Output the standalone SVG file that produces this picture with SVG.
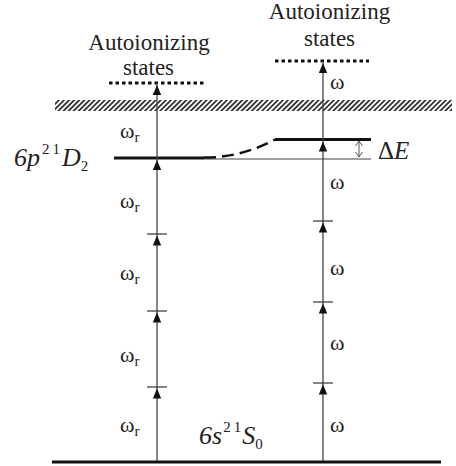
<svg xmlns="http://www.w3.org/2000/svg" width="456" height="466" viewBox="0 0 456 466">
<style>
.t{font-family:"Liberation Serif","Times New Roman",serif;fill:#222}
.lbl{font-size:23px}
.big{font-size:26px}
.de{font-size:25px}
.w{font-size:22px}
.sub{font-size:15px;font-style:normal}
.it{font-style:italic}
.lv{stroke:#111;stroke-width:3;fill:none}
.thin{stroke:#444;stroke-width:1.2;fill:none}
.dot{stroke:#111;stroke-width:3;stroke-dasharray:3.5 3;fill:none}
.ax{stroke:#444;stroke-width:1.3;fill:none}
.tick{stroke:#333;stroke-width:1.2}
</style>
<defs>
<path id="ah" d="M0,0 L-4.2,10 L4.2,10 Z" fill="#111"/>
<pattern id="hatch" patternUnits="userSpaceOnUse" width="3.6" height="3.6" patternTransform="rotate(45)">
<rect x="0" y="0" width="1.8" height="3.6" fill="#333"/>
</pattern>
</defs>

<g id="ionization-limit">
<rect x="55" y="100" width="397" height="11" fill="url(#hatch)"/>
</g>

<g id="autoionizing-left">
<line class="dot" x1="109" y1="83" x2="204" y2="83"/>
<text class="t lbl" x="149" y="50" text-anchor="middle">Autoionizing</text>
<text class="t lbl" x="148.5" y="75" text-anchor="middle">states</text>
</g>

<g id="autoionizing-right">
<line class="dot" x1="275" y1="61" x2="369" y2="61"/>
<text class="t lbl" x="329.5" y="19" text-anchor="middle">Autoionizing</text>
<text class="t lbl" x="329.5" y="46" text-anchor="middle">states</text>
</g>

<g id="level-6p2-1D2">
<line class="lv" x1="114" y1="158" x2="204" y2="158"/>
<line class="thin" x1="203" y1="159" x2="371" y2="159"/>
<text class="t big" x="14" y="166"><tspan class="it">6p</tspan><tspan class="sub" dx="2" dy="-12">2</tspan><tspan class="sub" dx="3">1</tspan><tspan class="it" dx="2" dy="12">D</tspan><tspan class="sub" dx="0" dy="5">2</tspan></text>
</g>

<g id="shifted-level">
<line class="lv" x1="275" y1="139.5" x2="371" y2="139.5"/>
<text class="t de" x="378" y="159">Δ<tspan class="it">E</tspan></text>
</g>

<g id="ground-6s2-1S0">
<line class="lv" x1="52" y1="462" x2="441" y2="462"/>
<text class="t big" x="199" y="444"><tspan class="it">6s</tspan><tspan class="sub" dx="1" dy="-12">2</tspan><tspan class="sub" dx="3">1</tspan><tspan class="it" dx="1" dy="12">S</tspan><tspan class="sub" dx="0" dy="5">0</tspan></text>
</g>

<g id="connectors">
<path d="M204,157.5 Q240,158 275,139.5" stroke="#111" stroke-width="2.5" fill="none" stroke-dasharray="12 6"/>
<g stroke="#444" stroke-width="0.9" fill="none">
<line x1="359" y1="141" x2="359" y2="157"/>
<path d="M355.5,146 L359,141 L362.5,146"/>
<path d="M355.5,152 L359,157 L362.5,152"/>
</g>
<line class="ax" x1="157" y1="461" x2="157" y2="85"/>
<line class="tick" x1="147" y1="234" x2="167" y2="234"/>
<line class="tick" x1="147" y1="311" x2="167" y2="311"/>
<line class="tick" x1="147" y1="387" x2="167" y2="387"/>
<use href="#ah" x="157" y="85"/>
<use href="#ah" x="157" y="160"/>
<use href="#ah" x="157" y="235.5"/>
<use href="#ah" x="157" y="312.5"/>
<use href="#ah" x="157" y="388.5"/>
<line class="ax" x1="323" y1="461" x2="323" y2="63"/>
<line class="tick" x1="313" y1="221" x2="333" y2="221"/>
<line class="tick" x1="313" y1="302" x2="333" y2="302"/>
<line class="tick" x1="313" y1="383" x2="333" y2="383"/>
<use href="#ah" x="323" y="63"/>
<use href="#ah" x="323" y="141.5"/>
<use href="#ah" x="323" y="222.5"/>
<use href="#ah" x="323" y="303.5"/>
<use href="#ah" x="323" y="384.5"/>
</g>

<g id="photon-labels">
<text class="t w" x="120" y="138">ω<tspan class="sub" dy="4">r</tspan></text>
<text class="t w" x="120" y="208">ω<tspan class="sub" dy="4">r</tspan></text>
<text class="t w" x="120" y="280">ω<tspan class="sub" dy="4">r</tspan></text>
<text class="t w" x="120" y="362">ω<tspan class="sub" dy="4">r</tspan></text>
<text class="t w" x="120" y="432">ω<tspan class="sub" dy="4">r</tspan></text>
<text class="t w" x="330" y="89">ω</text>
<text class="t w" x="330" y="189">ω</text>
<text class="t w" x="330" y="275">ω</text>
<text class="t w" x="330" y="350">ω</text>
<text class="t w" x="330" y="432">ω</text>
</g>
</svg>
